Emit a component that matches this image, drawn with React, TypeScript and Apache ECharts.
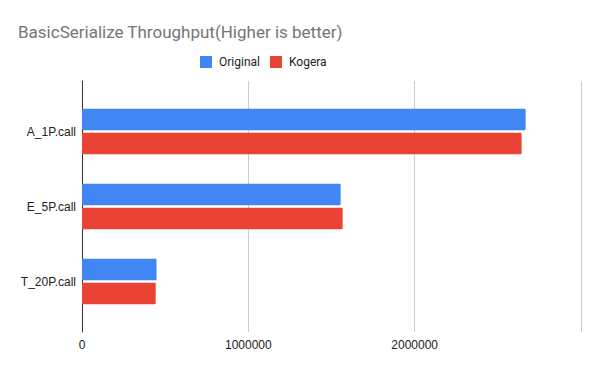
import React, { useEffect, useRef } from "react";
import * as echarts from "echarts";

const title = "BasicSerialize Throughput(Higher is better)";
const categories = ["A_1P.call", "E_5P.call", "T_20P.call"];
const seriesNames = ["Original", "Kogera"];
const originalValues = [2667000, 1555000, 448000];
const kogeraValues = [2643000, 1567000, 443000];
const xTicks = { min: 0, max: 3000000, interval: 1000000 };
const colors = ["#4285F4", "#EA4335"];

export default function App() {
  const ref = useRef<HTMLDivElement>(null);
  useEffect(() => {
    if (!ref.current) return;
    const chart = echarts.init(ref.current, undefined, { renderer: "svg" });
    const font = "Roboto, Arial, sans-serif";
    const axisFont = "'Liberation Sans', Arial, sans-serif";
    chart.setOption({
      animation: false,
      backgroundColor: "#ffffff",
      textStyle: { fontFamily: font },
      title: {
        text: title,
        left: 13,
        top: 18,
        textStyle: { fontFamily: font, fontSize: 17, fontWeight: "normal", color: "#757575" },
      },
      legend: {
        data: seriesNames,
        top: 51,
        left: 195,
        itemWidth: 12,
        itemHeight: 12,
        itemGap: 10,
        icon: "rect",
        textStyle: { fontFamily: font, fontSize: 12, color: "#222222", padding: [0, 0, 0, 2] },
      },
      grid: [
        { left: 82, right: 19, top: 81, height: 251 },
        { left: 82, right: 19, top: 94, height: 225 },
      ],
      xAxis: [
        {
          type: "value",
          gridIndex: 0,
          min: xTicks.min,
          max: xTicks.max,
          interval: xTicks.interval,
          axisLine: { show: false },
          axisTick: { show: false },
          splitLine: { show: true, lineStyle: { color: "#cccccc", width: 1 } },
          axisLabel: {
            showMaxLabel: false,
            margin: 7,
            fontSize: 12,
            color: "#222222",
            fontFamily: axisFont,
            formatter: (v: number) => String(v),
          },
        },
        {
          type: "value",
          gridIndex: 1,
          min: xTicks.min,
          max: xTicks.max,
          interval: xTicks.interval,
          show: false,
        },
      ],
      yAxis: [
        {
          type: "category",
          gridIndex: 0,
          data: [""],
          axisLine: { show: true, lineStyle: { color: "#333333", width: 1 } },
          axisTick: { show: false },
          axisLabel: { show: false },
        },
        {
          type: "category",
          gridIndex: 1,
          data: categories,
          inverse: true,
          axisLine: { show: false },
          axisTick: { show: false },
          axisLabel: { margin: 6, fontSize: 12, color: "#222222", fontFamily: axisFont },
        },
      ],
      series: [
        {
          name: seriesNames[0],
          type: "bar",
          xAxisIndex: 1,
          yAxisIndex: 1,
          data: originalValues,
          barWidth: 21.5,
          barGap: "12%",
          itemStyle: { color: colors[0], borderRadius: 1 },
        },
        {
          name: seriesNames[1],
          type: "bar",
          xAxisIndex: 1,
          yAxisIndex: 1,
          data: kogeraValues,
          barWidth: 21.5,
          barGap: "12%",
          itemStyle: { color: colors[1], borderRadius: 1 },
        },
      ],
    });
    return () => chart.dispose();
  }, []);
  return <div ref={ref} style={{ width: 600, height: 371, position: "absolute", left: 0, top: 0 }} />;
}
